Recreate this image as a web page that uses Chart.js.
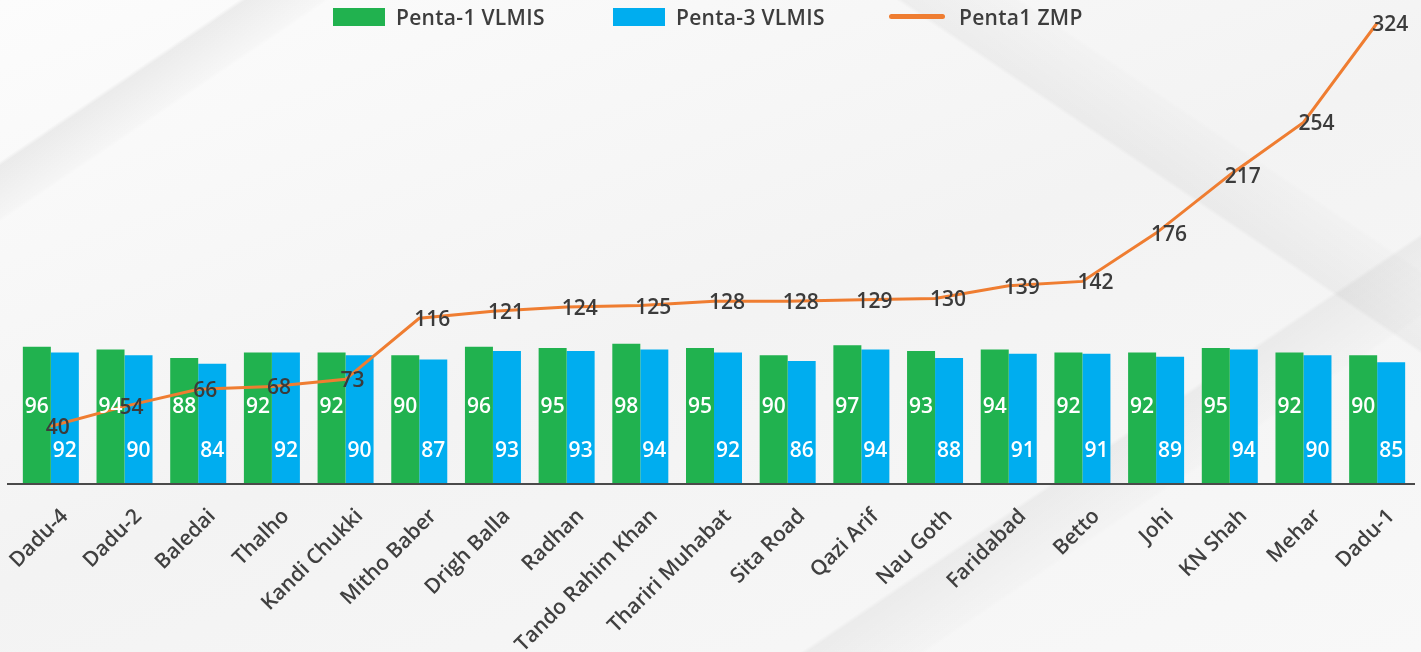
<!DOCTYPE html>
<html>
<head>
<meta charset="utf-8">
<script src="https://cdn.jsdelivr.net/npm/chart.js@4.4.1/dist/chart.umd.min.js"></script>
<style>
  html, body { margin: 0; padding: 0; }
  body {
    width: 1421px; height: 652px; overflow: hidden; position: relative;
    font-family: "Open Sans", sans-serif;
    background:
      linear-gradient(146deg, rgba(255,255,255,0) 0%, rgba(255,255,255,0) 10%, rgba(0,0,0,0.06) 10.3%, rgba(0,0,0,0.015) 13.5%, rgba(255,255,255,0) 13.8%),
      linear-gradient(146deg, rgba(255,255,255,0) 0%, rgba(255,255,255,0) 74%, rgba(0,0,0,0.045) 74.3%, rgba(0,0,0,0.01) 79%, rgba(255,255,255,0) 79.3%),
      linear-gradient(34deg, rgba(255,255,255,0) 0%, rgba(255,255,255,0) 78%, rgba(0,0,0,0.04) 78.3%, rgba(0,0,0,0.01) 83%, rgba(255,255,255,0) 83.3%),
      linear-gradient(160deg, #fcfcfc 0%, #f3f3f3 50%, #f8f8f8 100%);
  }
  #wrap { position: absolute; left: 0; top: 0; width: 1421px; height: 652px; }
  .leg { position: absolute; top: 0; height: 33px; display: flex; align-items: center;
         font-size: 21px; font-weight: 600; color: #3d3d3d; white-space: nowrap; letter-spacing: 0.3px; }
  .leg span.box { display: inline-block; width: 52px; height: 18px; margin-right: 11px; }
  .leg span.ln { display: inline-block; width: 56px; height: 5px; border-radius: 3px; margin-right: 14px; }
</style>
</head>
<body>
<div id="wrap"><canvas id="chart" width="1421" height="652"></canvas></div>
<div id="legend"></div>
<script>
const categories = ['Dadu-4', 'Dadu-2', 'Baledai', 'Thalho', 'Kandi Chukki', 'Mitho Baber', 'Drigh Balla', 'Radhan',
    'Tando Rahim Khan', 'Thariri Muhabat', 'Sita Road', 'Qazi Arif', 'Nau Goth', 'Faridabad', 'Betto', 'Johi',
    'KN Shah', 'Mehar', 'Dadu-1']
const penta1Vlmis = [96, 94, 88, 92, 92, 90, 96, 95, 98, 95, 90, 97, 93, 94, 92, 92, 95, 92, 90]
const penta3Vlmis = [92, 90, 84, 92, 90, 87, 93, 93, 94, 92, 86, 94, 88, 91, 91, 89, 94, 90, 85]
const penta1Zmp = [40, 54, 66, 68, 73, 116, 121, 124, 125, 128, 128, 129, 130, 139, 142, 176, 217, 254, 324]

const GREEN = '#21b24f'
const BLUE = '#00adef'
const ORANGE = '#ef7d31'
const TEXT = '#3b3b3b'

// legend drawn as html on top
const legendItems = [
    { label: 'Penta-1 VLMIS', color: GREEN, left: 333, kind: 'box' },
    { label: 'Penta-3 VLMIS', color: BLUE, left: 613, kind: 'box' },
    { label: 'Penta1 ZMP', color: ORANGE, left: 889, kind: 'ln' }
]
const legendEl = document.getElementById('legend')
legendItems.forEach(item => {
    const div = document.createElement('div')
    div.className = 'leg'
    div.style.left = item.left + 'px'
    div.innerHTML = `<span class="${item.kind}" style="background:${item.color}"></span>${item.label}`
    legendEl.appendChild(div)
})

// value labels on bars and line
const valueLabels = {
    id: 'valueLabels',
    afterDatasetsDraw(chart) {
        const ctx = chart.ctx
        const base = chart.scales.y.getPixelForValue(0)
        ctx.save()
        ctx.font = '600 21px "Open Sans"'
        ctx.textBaseline = 'middle'

        ctx.fillStyle = '#ffffff'
        ctx.textAlign = 'center'
        chart.getDatasetMeta(0).data.forEach((bar, i) => {
            ctx.fillText(penta1Vlmis[i], bar.x, base - 76)
        })
        chart.getDatasetMeta(1).data.forEach((bar, i) => {
            ctx.fillText(penta3Vlmis[i], bar.x, base - 32)
        })

        ctx.fillStyle = TEXT
        ctx.textAlign = 'left'
        chart.getDatasetMeta(2).data.forEach((pt, i) => {
            ctx.fillText(penta1Zmp[i], pt.x - 5, pt.y + 2)
        })
        ctx.restore()
    }
}

// baseline a bit wider than chart area, like the original
const baseLine = {
    id: 'baseLine',
    afterDatasetsDraw(chart) {
        const ctx = chart.ctx
        const y = chart.scales.y.getPixelForValue(0)
        ctx.save()
        ctx.strokeStyle = '#4a4a4a'
        ctx.lineWidth = 2
        ctx.beginPath()
        ctx.moveTo(7, y + 1)
        ctx.lineTo(chart.width - 6, y + 1)
        ctx.stroke()
        ctx.restore()
    }
}

new Chart(document.getElementById('chart'), {
    data: {
        labels: categories,
        datasets: [
            {
                type: 'bar',
                label: 'Penta-1 VLMIS',
                data: penta1Vlmis,
                backgroundColor: GREEN,
                categoryPercentage: 0.76,
                barPercentage: 1,
                order: 2
            },
            {
                type: 'bar',
                label: 'Penta-3 VLMIS',
                data: penta3Vlmis,
                backgroundColor: BLUE,
                categoryPercentage: 0.76,
                barPercentage: 1,
                order: 2
            },
            {
                type: 'line',
                label: 'Penta1 ZMP',
                data: penta1Zmp,
                borderColor: ORANGE,
                borderWidth: 3,
                pointRadius: 0,
                tension: 0,
                clip: false,
                order: 0
            }
        ]
    },
    options: {
        responsive: false,
        animation: false,
        layout: {
            padding: { left: 14, right: 7, top: 23, bottom: 0 }
        },
        plugins: {
            legend: { display: false },
            tooltip: { enabled: false }
        },
        scales: {
            x: {
                grid: { display: false },
                border: { display: false },
                ticks: {
                    color: '#404040',
                    font: { family: 'Open Sans', size: 21, weight: '600' },
                    maxRotation: 45,
                    minRotation: 45,
                    autoSkip: false,
                    padding: 13,
                    labelOffset: 14
                },
                afterFit(axis) {
                    axis.height = 169
                    axis.paddingLeft = 0
                    axis.paddingRight = 0
                }
            },
            y: {
                display: false,
                min: 0,
                max: 324
            }
        }
    },
    plugins: [valueLabels, baseLine]
})
</script>
</body>
</html>
